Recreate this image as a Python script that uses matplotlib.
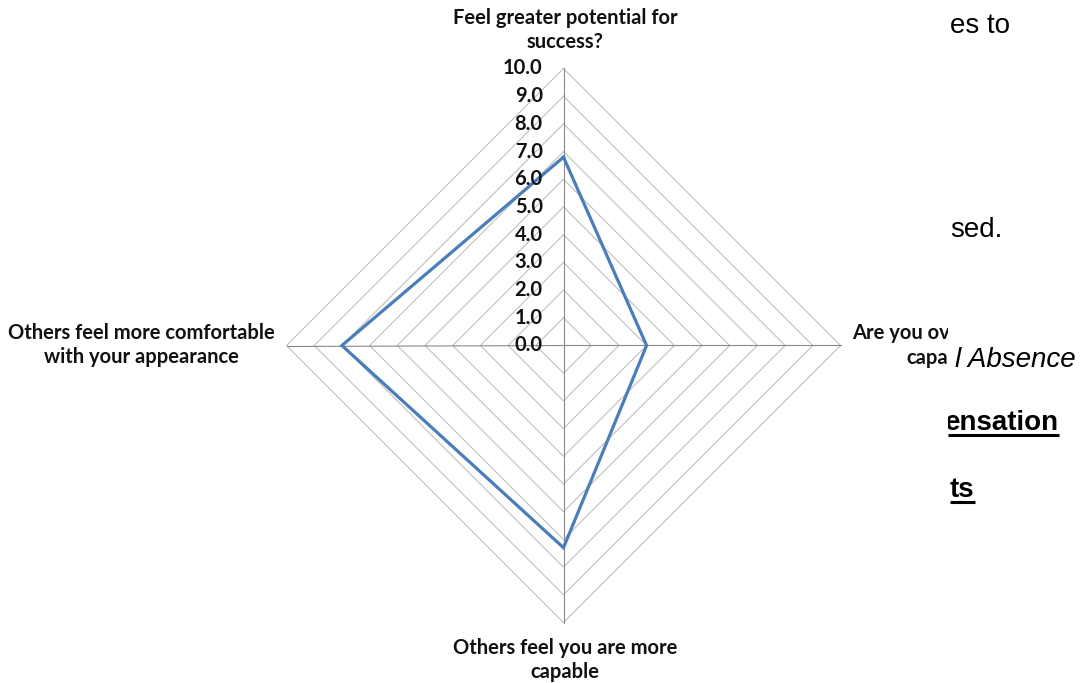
import numpy as np
import matplotlib
matplotlib.use("Agg")
import matplotlib.pyplot as plt

# survey scores, clockwise from the top spoke
categories = [
    "Feel greater potential for\nsuccess?",
    "Are you overall more\ncapable",
    "Others feel you are more\ncapable",
    "Others feel more comfortable\nwith your appearance",
]
scores = [6.8, 3.0, 7.3, 8.0]
rings = [1, 2, 3, 4, 5, 6, 7, 8, 9, 10]
tick_values = [0, 1, 2, 3, 4, 5, 6, 7, 8, 9, 10]
tick_labels = [f"{v:.1f}" for v in tick_values]

LABEL_FONT = "Lato"
LINE_BLUE = "#4A7EBB"
RING_GRAY = "#C0C0C0"
SPOKE_GRAY = "#8A8A8A"

W, H = 1081, 683
fig = plt.figure(figsize=(W / 100, H / 100), dpi=100)
fig.patch.set_facecolor("white")

# square axes centred on the radar, 600 px across
cx, cy, half = 563.5, 345.5, 300
ax = fig.add_axes([(cx - half) / W, (H - cy - half) / H, 2 * half / W, 2 * half / H])
lim = 10 * half / 277
ax.set_xlim(-lim, lim)
ax.set_ylim(-lim, lim)
ax.set_aspect("equal")
ax.axis("off")

n = len(categories)
angles = np.pi / 2 - 2 * np.pi * np.arange(n) / n

# diamond grid rings
for r in rings:
    xs = np.append(r * np.cos(angles), r * np.cos(angles[0]))
    ys = np.append(r * np.sin(angles), r * np.sin(angles[0]))
    ax.plot(xs, ys, color=RING_GRAY, lw=0.8, zorder=1)

# spokes
for a in angles:
    ax.plot([0, 10 * np.cos(a)], [0, 10 * np.sin(a)], color=SPOKE_GRAY, lw=0.8, zorder=2)

# data polygon
vals = np.array(scores)
px = np.append(vals * np.cos(angles), vals[0] * np.cos(angles[0]))
py = np.append(vals * np.sin(angles), vals[0] * np.sin(angles[0]))
ax.plot(px, py, color=LINE_BLUE, lw=2.3, solid_joinstyle="miter", zorder=3)

# radial scale along the top spoke
for v, lab in zip(tick_values, tick_labels):
    ax.text(-0.75, v, lab, ha="right", va="center", fontsize=14.5,
            fontweight="bold", family=LABEL_FONT, color="#111111", zorder=4)

# category labels
label_kw = dict(fontsize=14.5, fontweight="bold", family=LABEL_FONT,
                color="#111111", clip_on=False, linespacing=1.25)
ax.text(0.05, 11.39, categories[0], ha="center", va="center",
        multialignment="center", **label_kw)
ax.text(0.05, -11.35, categories[2], ha="center", va="center",
        multialignment="center", **label_kw)
ax.text(-15.25, 0.0, categories[3], ha="center", va="center",
        multialignment="center", **label_kw)
right_lines = categories[1].split("\n")
ax.text((852 - cx) / 27.7, 0.45, right_lines[0], ha="left", va="center", **label_kw)
ax.text((906 - cx) / 27.7, -0.45, right_lines[1], ha="left", va="center", **label_kw)

# page text sitting over the right edge of the chart
x0 = 948
doc = fig.add_axes([x0 / W, 0, (W - x0) / W, 1], zorder=10)
doc.set_xlim(x0, W)
doc.set_ylim(H, 0)
doc.set_facecolor("white")
doc.axis("off")
doc.add_patch(plt.Rectangle((x0, 0), W - x0, H, color="white", zorder=0))

doc_kw = dict(fontsize=20, family="Liberation Sans", color="black",
              va="baseline", clip_on=True)
doc.text(950, 33, "es to", ha="left", **doc_kw)
doc.text(950, 237, "sed.", ha="left", **doc_kw)
doc.text(1076, 367, "l Absence", ha="right", style="italic", **doc_kw)
t1 = doc.text(1059, 430, "ensation", ha="right", fontweight="bold", **doc_kw)
t2 = doc.text(950, 497, "ts", ha="left", fontweight="bold", **doc_kw)

# underline the bold words using their rendered extents
fig.canvas.draw()
inv = doc.transData.inverted()
for t, base in ((t1, 430), (t2, 497)):
    bb = t.get_window_extent()
    (xa, _), (xb, _) = inv.transform([[bb.x0, bb.y0], [bb.x1, bb.y0]])
    doc.plot([max(xa, x0), xb], [base + 5, base + 5], color="black", lw=2.2,
             solid_capstyle="butt")

fig.savefig("out.png", dpi=100, facecolor="white")
